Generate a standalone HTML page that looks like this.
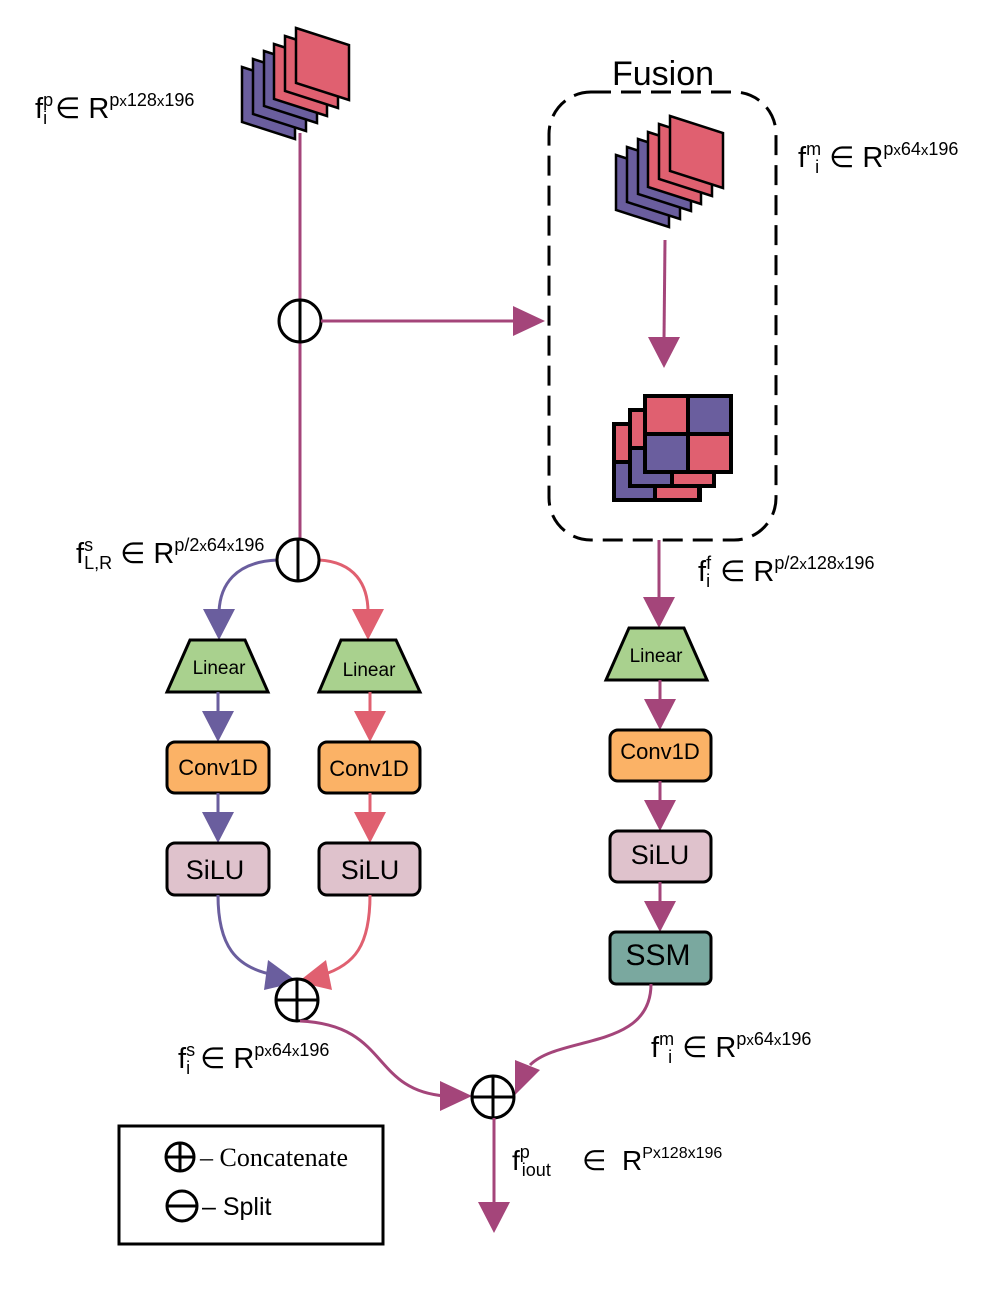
<!DOCTYPE html>
<html><head><meta charset="utf-8"><style>
html,body{margin:0;padding:0;background:#fff}
svg{display:block}
text{font-family:"Liberation Sans",sans-serif}
</style></head><body>
<svg width="996" height="1293" viewBox="0 0 996 1293" xmlns="http://www.w3.org/2000/svg">
<defs>
<g id="stack">
 <polygon points="0,39 53,56 53,111 0,94" fill="#6a5e9e" stroke="#000" stroke-width="2.5"/>
 <polygon points="11,31 64,48 64,103 11,86" fill="#6a5e9e" stroke="#000" stroke-width="2.5"/>
 <polygon points="22,23 75,40 75,95 22,78" fill="#6a5e9e" stroke="#000" stroke-width="2.5"/>
 <polygon points="32,16 85,33 85,88 32,71" fill="#e06070" stroke="#000" stroke-width="2.5"/>
 <polygon points="43,8 96,25 96,80 43,63" fill="#e06070" stroke="#000" stroke-width="2.5"/>
 <polygon points="54,0 107,17 107,72 54,55" fill="#e06070" stroke="#000" stroke-width="2.5"/>
</g>
</defs>

<use href="#stack" x="242" y="28"/>
<use href="#stack" transform="translate(616,116) scale(1)"/>

<line x1="300" y1="133" x2="300" y2="539" stroke="#a4457a" stroke-width="3"/>
<circle cx="300" cy="321" r="21" fill="#fff" stroke="#000" stroke-width="3"/>
<line x1="300" y1="300" x2="300" y2="342" stroke="#000" stroke-width="3"/>
<line x1="321" y1="321" x2="515" y2="321" stroke="#a4457a" stroke-width="3"/>
<polygon points="513,306 545,321 513,336" fill="#a4457a"/>

<text x="663" y="85" font-size="34" text-anchor="middle">Fusion</text>
<rect x="549" y="92" width="227" height="448" rx="42" fill="none" stroke="#000" stroke-width="3" stroke-dasharray="20,10"/>
<line x1="665" y1="240" x2="664" y2="340" stroke="#a4457a" stroke-width="3"/>
<polygon points="648,337 680,337 664,368" fill="#a4457a"/>

<g stroke="#000" stroke-width="4">
 <rect x="614" y="424" width="86" height="76" fill="#6a5e9e"/>
 <rect x="614" y="424" width="20" height="38" fill="#e06070"/>
 <rect x="655" y="486" width="44" height="14" fill="#e06070"/>
 <rect x="630" y="410" width="84" height="76" fill="#6a5e9e"/>
 <rect x="630" y="410" width="18" height="38" fill="#e06070"/>
 <rect x="672" y="472" width="42" height="14" fill="#e06070"/>
 <rect x="645" y="396" width="86" height="76" fill="#e06070"/>
 <rect x="688" y="396" width="43" height="38" fill="#6a5e9e"/>
 <rect x="645" y="434" width="43" height="38" fill="#6a5e9e"/>
</g>

<line x1="659" y1="540" x2="659" y2="600" stroke="#a4457a" stroke-width="3"/>
<polygon points="643,597 675,597 659,628" fill="#a4457a"/>
<polygon points="629,628 684,628 707,680 606,680" fill="#a9d18e" stroke="#000" stroke-width="3"/>
<text x="656" y="662" font-size="19" text-anchor="middle">Linear</text>
<line x1="660" y1="680" x2="660" y2="702" stroke="#a4457a" stroke-width="3"/>
<polygon points="644,699 676,699 660,730" fill="#a4457a"/>
<rect x="610" y="730" width="101" height="51" rx="8" fill="#fbb266" stroke="#000" stroke-width="3"/>
<text x="660" y="759" font-size="22" text-anchor="middle">Conv1D</text>
<line x1="660" y1="781" x2="660" y2="803" stroke="#a4457a" stroke-width="3"/>
<polygon points="644,800 676,800 660,831" fill="#a4457a"/>
<rect x="610" y="831" width="101" height="51" rx="8" fill="#dfc2cc" stroke="#000" stroke-width="3"/>
<text x="660" y="864" font-size="27" text-anchor="middle">SiLU</text>
<line x1="660" y1="882" x2="660" y2="904" stroke="#a4457a" stroke-width="3"/>
<polygon points="644,901 676,901 660,932" fill="#a4457a"/>
<rect x="610" y="932" width="101" height="52" rx="6" fill="#7aa89f" stroke="#000" stroke-width="3"/>
<text x="658" y="965" font-size="30" text-anchor="middle">SSM</text>
<path d="M651,984 C651,1050 560,1035 530,1065" fill="none" stroke="#a4457a" stroke-width="3"/>
<polygon points="515,1060 540,1070 515,1095" fill="#a4457a"/>

<path d="M277,560 C235,562 220,585 219,612" fill="none" stroke="#6a5e9e" stroke-width="3"/>
<polygon points="203,609 235,609 219,640" fill="#6a5e9e"/>
<path d="M319,560 C355,562 368,585 368,612" fill="none" stroke="#e06070" stroke-width="3"/>
<polygon points="352,609 384,609 368,640" fill="#e06070"/>
<circle cx="298" cy="560" r="21" fill="#fff" stroke="#000" stroke-width="3"/>
<line x1="298" y1="539" x2="298" y2="581" stroke="#000" stroke-width="3"/>

<polygon points="190,640 245,640 268,692 167,692" fill="#a9d18e" stroke="#000" stroke-width="3"/>
<text x="219" y="674" font-size="19" text-anchor="middle">Linear</text>
<line x1="218" y1="692" x2="218" y2="714" stroke="#6a5e9e" stroke-width="3"/>
<polygon points="202,711 234,711 218,742" fill="#6a5e9e"/>
<rect x="167" y="742" width="102" height="51" rx="8" fill="#fbb266" stroke="#000" stroke-width="3"/>
<text x="218" y="775" font-size="22" text-anchor="middle">Conv1D</text>
<line x1="218" y1="793" x2="218" y2="815" stroke="#6a5e9e" stroke-width="3"/>
<polygon points="202,812 234,812 218,843" fill="#6a5e9e"/>
<rect x="167" y="843" width="102" height="52" rx="8" fill="#dfc2cc" stroke="#000" stroke-width="3"/>
<text x="215" y="879" font-size="27" text-anchor="middle">SiLU</text>
<path d="M218,895 C218,945 235,968 275,975" fill="none" stroke="#6a5e9e" stroke-width="3"/>
<polygon points="268,960 298,982 264,990" fill="#6a5e9e"/>

<polygon points="341,640 396,640 420,692 319,692" fill="#a9d18e" stroke="#000" stroke-width="3"/>
<text x="369" y="676" font-size="19" text-anchor="middle">Linear</text>
<line x1="370" y1="692" x2="370" y2="714" stroke="#e06070" stroke-width="3"/>
<polygon points="354,711 386,711 370,742" fill="#e06070"/>
<rect x="319" y="742" width="101" height="51" rx="8" fill="#fbb266" stroke="#000" stroke-width="3"/>
<text x="369" y="776" font-size="22" text-anchor="middle">Conv1D</text>
<line x1="370" y1="793" x2="370" y2="815" stroke="#e06070" stroke-width="3"/>
<polygon points="354,812 386,812 370,843" fill="#e06070"/>
<rect x="319" y="843" width="101" height="52" rx="8" fill="#dfc2cc" stroke="#000" stroke-width="3"/>
<text x="370" y="879" font-size="27" text-anchor="middle">SiLU</text>
<path d="M370,895 C370,945 355,965 322,975" fill="none" stroke="#e06070" stroke-width="3"/>
<polygon points="326,960 298,982 332,990" fill="#e06070"/>

<circle cx="297" cy="1000" r="21" fill="#fff" stroke="#000" stroke-width="3"/>
<line x1="297" y1="979" x2="297" y2="1021" stroke="#000" stroke-width="3"/>
<line x1="276" y1="1000" x2="318" y2="1000" stroke="#000" stroke-width="3"/>

<path d="M300,1021 C390,1025 370,1090 445,1096" fill="none" stroke="#a4457a" stroke-width="3"/>
<polygon points="440,1081 472,1096 440,1111" fill="#a4457a"/>

<circle cx="493" cy="1097" r="21" fill="#fff" stroke="#000" stroke-width="3"/>
<line x1="493" y1="1076" x2="493" y2="1118" stroke="#000" stroke-width="3"/>
<line x1="472" y1="1097" x2="514" y2="1097" stroke="#000" stroke-width="3"/>
<line x1="494" y1="1118" x2="494" y2="1205" stroke="#a4457a" stroke-width="3"/>
<polygon points="478,1202 510,1202 494,1233" fill="#a4457a"/>

<text x="35" y="118" font-size="29">f<tspan font-size="18" dy="-12">p</tspan><tspan font-size="18" dy="18" dx="-10">i</tspan><tspan dy="-6" dx="8">∈ R</tspan><tspan font-size="18" dy="-12">p</tspan><tspan font-size="15">x</tspan><tspan font-size="18">128</tspan><tspan font-size="15">x</tspan><tspan font-size="18">196</tspan></text>
<text x="798" y="167" font-size="29">f<tspan font-size="18" dy="-12">m</tspan><tspan font-size="18" dy="18" dx="-6">i</tspan><tspan dy="-6" dx="10">∈ R</tspan><tspan font-size="18" dy="-12">p</tspan><tspan font-size="15">x</tspan><tspan font-size="18">64</tspan><tspan font-size="15">x</tspan><tspan font-size="18">196</tspan></text>
<text x="76" y="563" font-size="29">f<tspan font-size="18" dy="-12">s</tspan><tspan font-size="18" dy="18" dx="-9">L,R</tspan><tspan dy="-6" dx="8">∈ R</tspan><tspan font-size="18" dy="-12">p/2</tspan><tspan font-size="15">x</tspan><tspan font-size="18">64</tspan><tspan font-size="15">x</tspan><tspan font-size="18">196</tspan></text>
<text x="698" y="581" font-size="29">f<tspan font-size="18" dy="-12">f</tspan><tspan font-size="18" dy="18" dx="-5">i</tspan><tspan dy="-6" dx="10">∈ R</tspan><tspan font-size="18" dy="-12">p/2</tspan><tspan font-size="15">x</tspan><tspan font-size="18">128</tspan><tspan font-size="15">x</tspan><tspan font-size="18">196</tspan></text>
<text x="178" y="1068" font-size="29">f<tspan font-size="18" dy="-12">s</tspan><tspan font-size="18" dy="18" dx="-9">i</tspan><tspan dy="-6" dx="10">∈ R</tspan><tspan font-size="18" dy="-12">p</tspan><tspan font-size="15">x</tspan><tspan font-size="18">64</tspan><tspan font-size="15">x</tspan><tspan font-size="18">196</tspan></text>
<text x="651" y="1057" font-size="29">f<tspan font-size="18" dy="-12">m</tspan><tspan font-size="18" dy="18" dx="-6">i</tspan><tspan dy="-6" dx="10">∈ R</tspan><tspan font-size="18" dy="-12">p</tspan><tspan font-size="15">x</tspan><tspan font-size="18">64</tspan><tspan font-size="15">x</tspan><tspan font-size="18">196</tspan></text>
<text x="512" y="1170" font-size="28">f<tspan font-size="18" dy="-12">p</tspan><tspan font-size="18" dy="18" dx="-8">iout</tspan><tspan dy="-6" x="582">∈ </tspan><tspan x="622">R</tspan><tspan font-size="16" dy="-12">Px128x196</tspan></text>

<rect x="119" y="1126" width="264" height="118" fill="#fff" stroke="#000" stroke-width="3"/>
<circle cx="180" cy="1157" r="14" fill="none" stroke="#000" stroke-width="3"/>
<line x1="180" y1="1143" x2="180" y2="1171" stroke="#000" stroke-width="3"/>
<line x1="166" y1="1157" x2="194" y2="1157" stroke="#000" stroke-width="3"/>
<text x="200" y="1166" font-size="26" style="font-family:'Liberation Serif',serif">– Concatenate</text>
<circle cx="182" cy="1206" r="15" fill="none" stroke="#000" stroke-width="3"/>
<line x1="167" y1="1206" x2="197" y2="1206" stroke="#000" stroke-width="3"/>
<text x="202" y="1215" font-size="25">– Split</text>
</svg>
</body></html>
